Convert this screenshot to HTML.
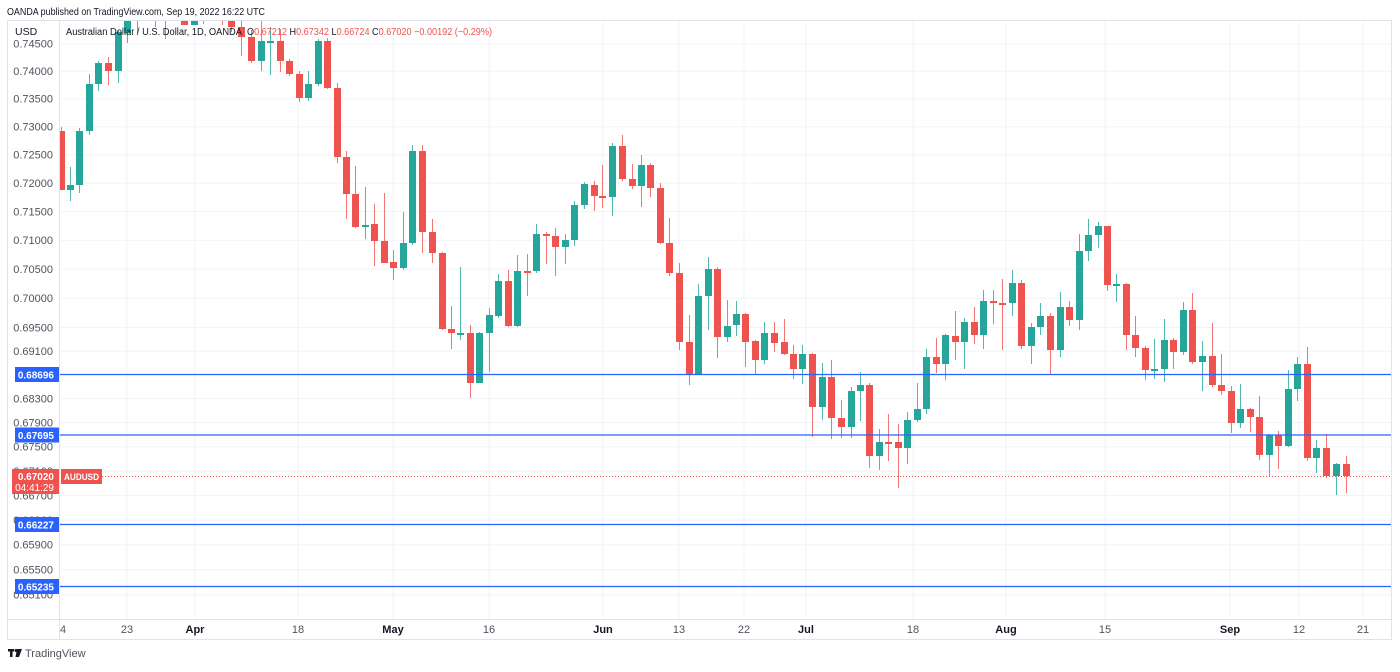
<!DOCTYPE html>
<html><head><meta charset="utf-8">
<style>
html,body{margin:0;padding:0;background:#fff;}
body{width:1400px;height:667px;overflow:hidden;font-family:"Liberation Sans",sans-serif;}
svg text{font-family:"Liberation Sans",sans-serif;}
</style></head>
<body>
<svg width="1400" height="667" viewBox="0 0 1400 667" xmlns="http://www.w3.org/2000/svg">
<defs><clipPath id="pc"><rect x="60" y="21" width="1331" height="598"/></clipPath></defs>
<rect x="0" y="0" width="1400" height="667" fill="#fff"/>
<g stroke="#f0f3fa" stroke-width="1">
<line x1="60" x2="1391" y1="43.7" y2="43.7"/><line x1="60" x2="1391" y1="71.2" y2="71.2"/>
<line x1="60" x2="1391" y1="98.9" y2="98.9"/><line x1="60" x2="1391" y1="126.8" y2="126.8"/>
<line x1="60" x2="1391" y1="154.9" y2="154.9"/><line x1="60" x2="1391" y1="183.1" y2="183.1"/>
<line x1="60" x2="1391" y1="211.6" y2="211.6"/><line x1="60" x2="1391" y1="240.3" y2="240.3"/>
<line x1="60" x2="1391" y1="269.1" y2="269.1"/><line x1="60" x2="1391" y1="298.2" y2="298.2"/>
<line x1="60" x2="1391" y1="327.5" y2="327.5"/><line x1="60" x2="1391" y1="351.1" y2="351.1"/>
<line x1="60" x2="1391" y1="398.6" y2="398.6"/><line x1="60" x2="1391" y1="422.6" y2="422.6"/>
<line x1="60" x2="1391" y1="446.8" y2="446.8"/><line x1="60" x2="1391" y1="471.1" y2="471.1"/>
<line x1="60" x2="1391" y1="495.5" y2="495.5"/><line x1="60" x2="1391" y1="520.1" y2="520.1"/>
<line x1="60" x2="1391" y1="544.8" y2="544.8"/><line x1="60" x2="1391" y1="569.7" y2="569.7"/>
<line x1="60" x2="1391" y1="594.7" y2="594.7"/>
<line x1="127" x2="127" y1="20" y2="619"/><line x1="195" x2="195" y1="20" y2="619"/>
<line x1="298" x2="298" y1="20" y2="619"/><line x1="393" x2="393" y1="20" y2="619"/>
<line x1="489" x2="489" y1="20" y2="619"/><line x1="603" x2="603" y1="20" y2="619"/>
<line x1="679" x2="679" y1="20" y2="619"/><line x1="744" x2="744" y1="20" y2="619"/>
<line x1="806" x2="806" y1="20" y2="619"/><line x1="913" x2="913" y1="20" y2="619"/>
<line x1="1006" x2="1006" y1="20" y2="619"/><line x1="1105" x2="1105" y1="20" y2="619"/>
<line x1="1230" x2="1230" y1="20" y2="619"/><line x1="1299" x2="1299" y1="20" y2="619"/>
<line x1="1363" x2="1363" y1="20" y2="619"/>
</g>
<g clip-path="url(#pc)">
<path stroke="#26a69a" stroke-opacity="0.8" stroke-width="1" fill="none" d="M70.5 167V201M79.5 128V193M89.5 74V135M98.5 61V91M118.5 30V83M127.5 0V43M137.5 0V33M165.5 0V39M194.5 0V25M203.5 0V24M261.5 15V71M270.5 27V75M308.5 71V101M318.5 39V86M365.5 187V239M403.5 212V270M412.5 145V245M460.5 267V340M479.5 332V383M489.5 308V372M498.5 274V318M517.5 255V327M536.5 224V273M565.5 234V264M574.5 201V246M584.5 182V209M612.5 143V216M641.5 155V207M698.5 284V375M708.5 257V330M727.5 300V342M736.5 301V336M764.5 322V364M802.5 345V384M822.5 363V420M851.5 387V438M860.5 372V421M879.5 429V470M907.5 412V464M917.5 383V422M926.5 349V414M945.5 334V380M964.5 318V369M983.5 290V349M1012.5 270V316M1031.5 323V364M1040.5 303V335M1060.5 292V357M1079.5 234V330M1088.5 219V261M1098.5 222V248M1116.5 274V302M1154.5 339V379M1164.5 319V382M1183.5 302V355M1202.5 341V391M1240.5 384V428M1269.5 434V476M1288.5 370V447M1297.5 357V401M1316.5 440V473M1336.5 463V495"/>
<path fill="#26a69a" d="M67 185h7V190h-7zM76 131h7V185h-7zM86 84h7V131h-7zM95 63h7V84h-7zM115 32h7V71h-7zM124 10h7V33h-7zM134 0h7V15h-7zM162 0h7V15h-7zM191 0h7V25h-7zM200 0h7V14h-7zM258 41h7V61h-7zM267 41h7V43h-7zM305 84h7V98h-7zM315 41h7V84h-7zM362 225h7V227h-7zM400 243h7V268h-7zM409 151h7V243h-7zM457 333h7V335h-7zM476 333h7V383h-7zM486 315h7V333h-7zM495 281h7V316h-7zM514 271h7V326h-7zM533 234h7V271h-7zM562 240h7V247h-7zM571 205h7V240h-7zM581 184h7V205h-7zM609 146h7V197h-7zM638 165h7V186h-7zM695 296h7V375h-7zM705 269h7V296h-7zM724 326h7V337h-7zM733 314h7V325h-7zM761 333h7V360h-7zM799 354h7V369h-7zM819 377h7V407h-7zM848 391h7V427h-7zM857 385h7V391h-7zM876 442h7V456h-7zM904 420h7V448h-7zM914 409h7V420h-7zM923 357h7V409h-7zM942 335h7V364h-7zM961 322h7V342h-7zM980 301h7V335h-7zM1009 283h7V303h-7zM1028 327h7V346h-7zM1037 316h7V327h-7zM1057 307h7V350h-7zM1076 251h7V320h-7zM1085 235h7V251h-7zM1095 226h7V235h-7zM1113 284h7V286h-7zM1151 369h7V371h-7zM1161 340h7V369h-7zM1180 310h7V352h-7zM1199 356h7V362h-7zM1237 409h7V423h-7zM1266 435h7V455h-7zM1285 389h7V446h-7zM1294 364h7V389h-7zM1313 448h7V458h-7zM1333 464h7V476h-7z"/>
<path stroke="#ef5350" stroke-opacity="0.8" stroke-width="1" fill="none" d="M61.5 127V190M108.5 57V85M155.5 0V27M184.5 0V25M222.5 0V25M231.5 0V32M241.5 20V56M251.5 30V63M280.5 29V72M289.5 59V76M299.5 71V102M327.5 38V89M337.5 83V163M346.5 151V219M355.5 166V228M374.5 204V266M384.5 193V263M393.5 250V280M422.5 145V253M432.5 219V263M442.5 252V330M451.5 306V349M470.5 325V398M508.5 270V327M527.5 254V296M546.5 232V264M555.5 228V276M594.5 181V211M602.5 165V208M622.5 135V181M632.5 164V189M650.5 163V197M660.5 183V244M669.5 218V276M679.5 263V350M689.5 315V385M717.5 267V358M745.5 313V367M755.5 340V375M774.5 322V352M784.5 319V355M793.5 345V379M812.5 353V437M831.5 360V439M841.5 400V438M869.5 383V468M888.5 414V461M898.5 424V488M936.5 338V373M955.5 311V360M974.5 307V344M993.5 290V324M1002.5 279V350M1021.5 280V349M1050.5 313V375M1069.5 301V326M1107.5 226V291M1126.5 283V350M1135.5 316V357M1145.5 346V380M1173.5 338V369M1192.5 293V364M1212.5 323V387M1221.5 354V395M1231.5 386V433M1250.5 408V432M1259.5 396V460M1278.5 431V469M1307.5 347V461M1326.5 434V478M1346.5 456V493"/>
<path fill="#ef5350" d="M58 131h7V190h-7zM105 63h7V71h-7zM152 0h7V15h-7zM181 0h7V25h-7zM219 0h7V15h-7zM228 0h7V27h-7zM238 27h7V37h-7zM248 37h7V61h-7zM277 41h7V61h-7zM286 61h7V74h-7zM296 74h7V98h-7zM324 41h7V88h-7zM334 88h7V157h-7zM343 157h7V194h-7zM352 194h7V227h-7zM371 224h7V241h-7zM381 241h7V263h-7zM390 262h7V268h-7zM419 151h7V232h-7zM429 232h7V253h-7zM439 253h7V329h-7zM448 329h7V333h-7zM467 333h7V383h-7zM505 281h7V326h-7zM524 271h7V273h-7zM543 234h7V236h-7zM552 236h7V247h-7zM591 185h7V196h-7zM599 196h7V198h-7zM619 146h7V179h-7zM629 179h7V186h-7zM647 165h7V188h-7zM657 188h7V243h-7zM666 243h7V273h-7zM676 273h7V342h-7zM686 342h7V375h-7zM714 269h7V337h-7zM742 314h7V342h-7zM752 341h7V360h-7zM771 333h7V343h-7zM781 342h7V354h-7zM790 354h7V369h-7zM809 354h7V407h-7zM828 377h7V418h-7zM838 418h7V427h-7zM866 385h7V456h-7zM885 442h7V444h-7zM895 442h7V448h-7zM933 357h7V364h-7zM952 336h7V342h-7zM971 322h7V335h-7zM990 301h7V303h-7zM999 303h7V305h-7zM1018 283h7V346h-7zM1047 316h7V350h-7zM1066 307h7V320h-7zM1104 226h7V285h-7zM1123 284h7V335h-7zM1132 335h7V348h-7zM1142 348h7V370h-7zM1170 340h7V352h-7zM1189 310h7V362h-7zM1209 356h7V385h-7zM1218 385h7V391h-7zM1228 391h7V423h-7zM1247 409h7V417h-7zM1256 417h7V455h-7zM1275 435h7V446h-7zM1304 364h7V458h-7zM1323 448h7V476h-7zM1343 464h7V476h-7z"/>
</g>
<g stroke="#2962ff" stroke-width="1.2">
<line x1="60" x2="1391" y1="374.5" y2="374.5"/><line x1="60" x2="1391" y1="435" y2="435"/>
<line x1="60" x2="1391" y1="524.5" y2="524.5"/><line x1="60" x2="1391" y1="586.5" y2="586.5"/>
</g>
<line x1="102" x2="1391" y1="476.5" y2="476.5" stroke="#ef5350" stroke-width="1" stroke-dasharray="1,2"/>
<g stroke="#e0e3eb" stroke-width="1" fill="none">
<rect x="7.5" y="20.5" width="1384" height="619"/>
<line x1="59.5" x2="59.5" y1="20" y2="640"/>
<line x1="7" x2="1392" y1="619.5" y2="619.5"/>
</g>
<g font-size="11" fill="#50535e" text-anchor="end">
<text x="53" y="47.5">0.74500</text><text x="53" y="75">0.74000</text>
<text x="53" y="102.7">0.73500</text><text x="53" y="130.6">0.73000</text>
<text x="53" y="158.7">0.72500</text><text x="53" y="186.9">0.72000</text>
<text x="53" y="215.4">0.71500</text><text x="53" y="244.1">0.71000</text>
<text x="53" y="272.9">0.70500</text><text x="53" y="302">0.70000</text>
<text x="53" y="331.3">0.69500</text><text x="53" y="354.9">0.69100</text>
<text x="53" y="402.4">0.68300</text><text x="53" y="426.4">0.67900</text>
<text x="53" y="450.6">0.67500</text><text x="53" y="474.9">0.67100</text>
<text x="53" y="499.3">0.66700</text><text x="53" y="523.9">0.66300</text>
<text x="53" y="548.6">0.65900</text><text x="53" y="573.5">0.65500</text>
<text x="53" y="598.5">0.65100</text>
</g>
<g font-size="10" font-weight="bold" fill="#fff" text-anchor="end">
<rect x="15" y="367" width="44" height="15" fill="#2962ff"/><text x="54" y="378.5">0.68696</text>
<rect x="15" y="427.5" width="44" height="15" fill="#2962ff"/><text x="54" y="439">0.67695</text>
<rect x="15" y="517" width="44" height="15" fill="#2962ff"/><text x="54" y="528.5">0.66227</text>
<rect x="15" y="579" width="44" height="15" fill="#2962ff"/><text x="54" y="590.5">0.65235</text>
<rect x="12" y="469" width="47" height="25" fill="#ef5350"/><text x="54" y="480">0.67020</text>
<text x="54" y="491" font-weight="normal">04:41:29</text>
<rect x="61" y="469" width="41" height="15" fill="#ef5350"/><text x="81.5" y="480" text-anchor="middle" font-size="9.5" textLength="35" lengthAdjust="spacingAndGlyphs">AUDUSD</text>
</g>
<g font-size="11" fill="#50535e" text-anchor="middle">
<text x="63" y="633">4</text><text x="127" y="633">23</text>
<text x="195" y="633" font-weight="bold" fill="#131722">Apr</text><text x="298" y="633">18</text>
<text x="393" y="633" font-weight="bold" fill="#131722">May</text><text x="489" y="633">16</text>
<text x="603" y="633" font-weight="bold" fill="#131722">Jun</text><text x="679" y="633">13</text>
<text x="744" y="633">22</text><text x="806" y="633" font-weight="bold" fill="#131722">Jul</text>
<text x="913" y="633">18</text><text x="1006" y="633" font-weight="bold" fill="#131722">Aug</text>
<text x="1105" y="633">15</text><text x="1230" y="633" font-weight="bold" fill="#131722">Sep</text>
<text x="1299" y="633">12</text><text x="1363" y="633">21</text>
</g>
<rect x="0" y="0" width="1400" height="20" fill="#fff"/>
<text x="7" y="15" font-size="10" fill="#131722" textLength="258" lengthAdjust="spacingAndGlyphs">OANDA published on TradingView.com, Sep 19, 2022 16:22 UTC</text>
<text x="15" y="35" font-size="10.5" fill="#131722">USD</text>
<text x="66" y="35" font-size="10" fill="#131722" textLength="176" lengthAdjust="spacingAndGlyphs">Australian Dollar / U.S. Dollar, 1D, OANDA</text>
<text x="247" y="35" font-size="10" fill="#131722" textLength="245" lengthAdjust="spacingAndGlyphs">O<tspan fill="#ef5350">0.67212</tspan>  H<tspan fill="#ef5350">0.67342</tspan>  L<tspan fill="#ef5350">0.66724</tspan>  C<tspan fill="#ef5350">0.67020  −0.00192 (−0.29%)</tspan></text>
<g fill="#131722">
<rect x="8" y="649" width="6" height="2.5"/><rect x="10" y="649" width="2.5" height="8"/>
<circle cx="16" cy="650.5" r="1.5"/><polygon points="17,649 22,649 19,657 15.5,657"/>
</g>
<text x="25" y="657" font-size="11" fill="#50535e">TradingView</text>
</svg>
</body></html>
